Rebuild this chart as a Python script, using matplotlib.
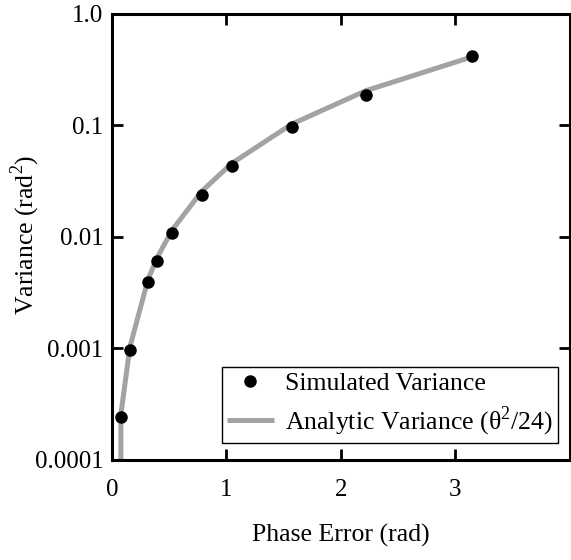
import numpy as np
import matplotlib
matplotlib.use("Agg")
import matplotlib.pyplot as plt
from matplotlib.ticker import FixedLocator, FixedFormatter, NullLocator

# Données
phase_sim = [0.0785, 0.157, 0.314, 0.393, 0.524, 0.785, 1.047, 1.571, 2.221, 3.142]
var_sim = [2.43e-4, 9.7e-4, 3.96e-3, 6.1e-3, 1.09e-2, 2.39e-2, 4.36e-2, 9.75e-2, 0.189, 0.416]

# Courbe analytique theta^2/24 (incluant theta = 0)
phase_ana = [0.0, 0.0785, 0.157, 0.314, 0.393, 0.524, 0.785, 1.047, 1.571, 2.221, 3.142]
var_ana = [p ** 2 / 24 for p in phase_ana]

yticks = [1e-4, 1e-3, 1e-2, 1e-1, 1.0]
ytick_labels = ['0.0001', '0.001', '0.01', '0.1', '1.0']
xticks = [0, 1, 2, 3]

plt.rcParams['font.family'] = ['Liberation Serif', 'DejaVu Serif']
plt.rcParams['mathtext.fontset'] = 'custom'
plt.rcParams['mathtext.rm'] = 'Liberation Serif'

fs = 18.5

fig = plt.figure(figsize=(5.71, 5.60), dpi=100)
ax = fig.add_axes([0.196, 0.179, 0.802, 0.796])

ax.set_yscale('log', nonpositive='clip')
ax.plot(phase_ana, var_ana, color='#a3a3a3', lw=3.6, solid_capstyle='butt',
        label='Analytic Variance (θ$^{2}$/24)')
ax.plot(phase_sim, var_sim, 'o', color='black', ms=8, ls='none',
        label='Simulated Variance')

ax.set_xlim(0, 4)
ax.set_ylim(1e-4, 1.0)
ax.xaxis.set_major_locator(FixedLocator(xticks))
ax.yaxis.set_major_locator(FixedLocator(yticks))
ax.yaxis.set_major_formatter(FixedFormatter(ytick_labels))
ax.yaxis.set_minor_locator(NullLocator())

ax.tick_params(direction='in', length=8, width=2, labelsize=18,
               top=True, right=True, pad=6)
ax.tick_params(axis='x', pad=14)
for s in ax.spines.values():
    s.set_linewidth(2.2)

ax.set_xlabel('Phase Error (rad)', fontsize=fs, labelpad=16)
ax.set_ylabel('Variance (rad$^{2}$)', fontsize=fs)
ax.yaxis.set_label_coords(-0.153, 0.505)

handles, labels = ax.get_legend_handles_labels()
leg = ax.legend(handles[::-1], labels[::-1], loc='lower right', fontsize=fs,
                fancybox=False, framealpha=1, edgecolor='black',
                handlelength=1.8, handletextpad=0.45, borderpad=0.2,
                labelspacing=0.35, borderaxespad=0,
                bbox_to_anchor=(0.974, 0.038))
leg.get_frame().set_linewidth(1.0)

fig.savefig('out.png', dpi=100)
